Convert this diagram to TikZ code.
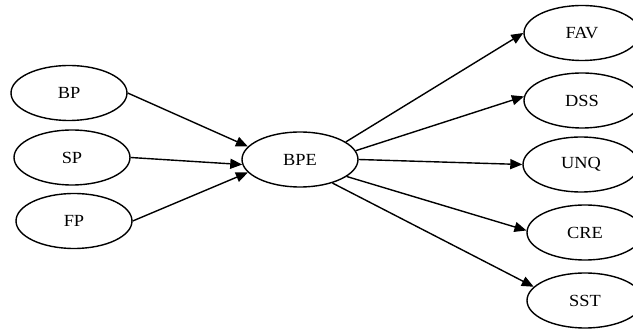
\documentclass[tikz,border=0pt]{standalone}
\usepackage{fontspec}
\setmainfont{Liberation Serif}[FakeStretch=1.08]
\usetikzlibrary{shapes.geometric,arrows.meta}
\tikzset{
  var/.style={ellipse, draw, line width=1.4pt, minimum width=116pt, minimum height=55pt, inner sep=0pt, font=\fontsize{17}{20}\selectfont},
  link/.style={line width=1.4pt, -{Triangle[length=12pt,width=10pt]}}
}
\begin{document}
\begin{tikzpicture}[x=1pt,y=1pt]
\useasboundingbox (0,0) rectangle (633,329);
\node[var] (BP)  at (69,236) {BP};
\node[var] (SP)  at (72,171.5) {SP};
\node[var] (FP)  at (74,108) {FP};
\node[var] (BPE) at (300,169.5) {BPE};
\node[var] (FAV) at (582,296) {FAV};
\node[var] (DSS) at (582,228.5) {DSS};
\node[var] (UNQ) at (581,164.5) {UNQ};
\node[var] (CRE) at (585,96.5) {CRE};
\node[var] (SST) at (585,28.5) {SST};
\draw[link] (BP.east) -- (BPE.166);
\draw[link] (SP.east) -- (BPE.185);
\draw[link] (FP.east) -- (BPE.194);
\draw[link] (BPE.21) -- (FAV.west);
\draw[link] (BPE.9) -- (DSS.176);
\draw[link] (BPE.east) -- (UNQ.west);
\draw[link] (BPE.-20) -- (CRE.178);
\draw[link] (BPE.-36) -- (SST.165);
\end{tikzpicture}
\end{document}
